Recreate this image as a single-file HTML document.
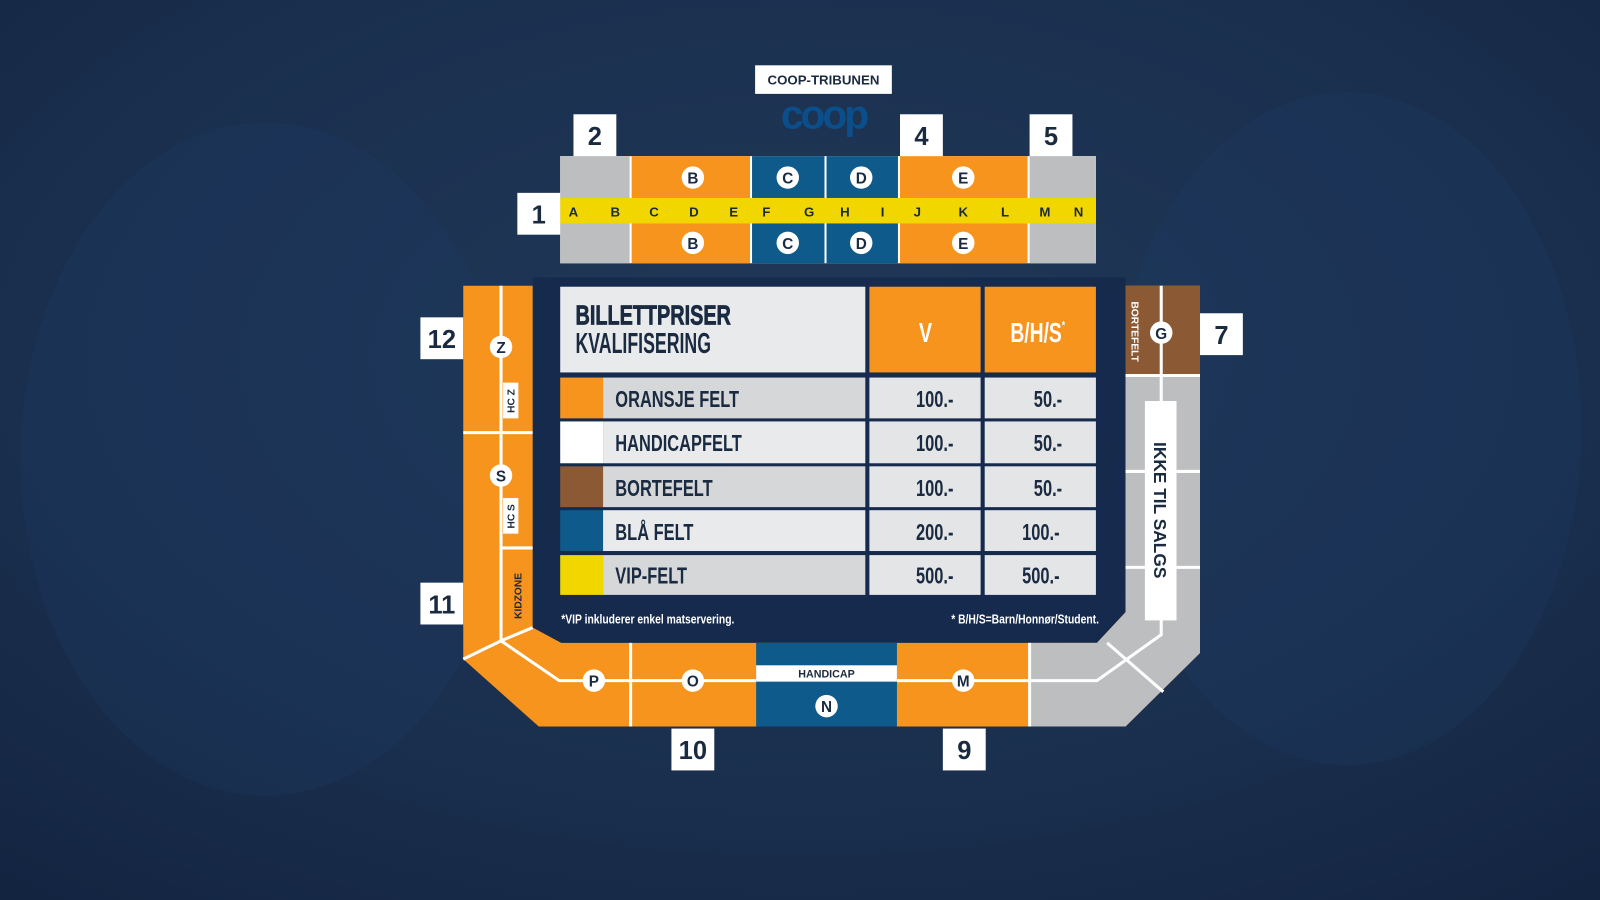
<!DOCTYPE html>
<html><head><meta charset="utf-8"><style>
html,body{margin:0;padding:0;width:1600px;height:900px;overflow:hidden;background:#162c4c}
svg{display:block}
text{font-family:"Liberation Sans",sans-serif;font-weight:bold}
</style></head><body>
<svg width="1600" height="900" viewBox="0 0 1568 882" xmlns="http://www.w3.org/2000/svg">
<defs>
<radialGradient id="bg" cx="0.5" cy="0.4" r="0.8">
<stop offset="0" stop-color="#213858"/><stop offset="0.6" stop-color="#1a2f4e"/><stop offset="1" stop-color="#12233f"/>
</radialGradient>
</defs>
<rect width="1568" height="882" fill="url(#bg)"/>
<ellipse cx="260" cy="450" rx="240" ry="330" fill="#1c3a68" opacity="0.25"/>
<ellipse cx="1320" cy="420" rx="230" ry="330" fill="#1c3a68" opacity="0.25"/>

<!-- COOP -->
<rect x="740" y="64" width="134" height="28" fill="#fff"/>
<text x="807" y="83" font-size="13" fill="#1a2a40" text-anchor="middle">COOP-TRIBUNEN</text>
<text x="807" y="126" font-size="40" fill="#0b4e8c" text-anchor="middle" letter-spacing="-3">coop</text>

<!-- top stand -->
<rect x="549" y="153" width="525" height="105" fill="#fff"/>
<rect x="549" y="153" width="68" height="105" fill="#bdbec0"/>
<rect x="619" y="153" width="116" height="105" fill="#f7941d"/>
<rect x="737" y="153" width="71" height="105" fill="#0e5a8a"/>
<rect x="810" y="153" width="70" height="105" fill="#0e5a8a"/>
<rect x="882" y="153" width="125" height="105" fill="#f7941d"/>
<rect x="1009" y="153" width="65" height="105" fill="#bdbec0"/>
<rect x="549" y="194" width="525" height="25" fill="#f2d600"/>
<g font-size="13" fill="#1a2a40" text-anchor="middle">
<text x="562" y="212">A</text><text x="603" y="212">B</text><text x="641" y="212">C</text><text x="680" y="212">D</text><text x="719" y="212">E</text><text x="751" y="212">F</text><text x="793" y="212">G</text><text x="828" y="212">H</text><text x="865" y="212">I</text><text x="899" y="212">J</text><text x="944" y="212">K</text><text x="985" y="212">L</text><text x="1024" y="212">M</text><text x="1057" y="212">N</text>
</g>

<!-- number boxes -->
<g fill="#fff">
<rect x="562" y="112" width="42" height="41"/><rect x="882" y="112" width="42" height="41"/><rect x="1009" y="112" width="42" height="41"/>
<rect x="507" y="189" width="42" height="41"/><rect x="412" y="311" width="42" height="41"/><rect x="412" y="571" width="42" height="41"/>
<rect x="1176" y="307" width="42" height="41"/><rect x="658" y="714" width="42" height="41"/><rect x="924" y="714" width="42" height="41"/>
</g>
<g font-size="25" fill="#1a2a40" text-anchor="middle">
<text x="583" y="142">2</text><text x="903" y="142">4</text><text x="1030" y="142">5</text>
<text x="528" y="219">1</text><text x="433" y="341">12</text><text x="433" y="601">11</text>
<text x="1197" y="337">7</text><text x="679" y="744">10</text><text x="945" y="744">9</text>
</g>

<!-- table backing -->
<polygon points="522,272 1103,272 1103,600 1075,630 550,630 522,615" fill="#13274a" opacity="0.7"/>

<!-- U-shaped stand -->
<path d="M454,280 L522,280 L522,615 L550,630 L1075,630 L1103,600 L1103,280 L1176,280 L1176,640 L1103,712 L528,712 L454,646 Z" fill="#f7941d"/>
<polygon points="1009,630 1075,630 1103,600 1103,368 1176,368 1176,640 1103,712 1009,712" fill="#bdbec0"/>
<rect x="1103" y="280" width="73" height="88" fill="#8b5a35"/>
<rect x="741" y="630" width="138" height="82" fill="#0e5a8a"/>
<rect x="741" y="652" width="138" height="16" fill="#fff"/>
<text x="810" y="664" font-size="10.5" fill="#1a2a40" text-anchor="middle">HANDICAP</text>

<g stroke="#fff" stroke-width="3" fill="none">
<line x1="491" y1="280" x2="491" y2="628"/>
<line x1="454" y1="424" x2="522" y2="424"/>
<line x1="491" y1="537" x2="522" y2="537"/>
<polyline points="454,646 491,628 522,615"/>
<polyline points="491,628 548,667 741,667"/>
<line x1="618" y1="630" x2="618" y2="712"/>
<line x1="1009" y1="630" x2="1009" y2="712"/>
<polyline points="879,667 1075,667 1138,622 1138,280"/>
<line x1="1085" y1="630" x2="1140" y2="678"/>
<line x1="1103" y1="368" x2="1176" y2="368"/>
<line x1="1103" y1="462" x2="1176" y2="462"/>
<line x1="1103" y1="556" x2="1176" y2="556"/>
</g>
<rect x="1122" y="393" width="31" height="215" fill="#fff"/>
<text transform="translate(1131,500) rotate(90)" font-size="17" fill="#1a2a40" text-anchor="middle" font-weight="normal">IKKE TIL SALGS</text>
<text transform="translate(1109,325) rotate(90)" font-size="10" fill="#fff" text-anchor="middle" font-weight="normal">BORTEFELT</text>
<rect x="493" y="375" width="15" height="35" fill="#fff"/>
<rect x="493" y="488" width="15" height="35" fill="#fff"/>
<text transform="translate(504,393) rotate(-90)" font-size="10" fill="#1a2a40" text-anchor="middle">HC Z</text>
<text transform="translate(504,506) rotate(-90)" font-size="10" fill="#1a2a40" text-anchor="middle">HC S</text>
<text transform="translate(511,584) rotate(-90)" font-size="10" fill="#1a2a40" text-anchor="middle">KIDZONE</text>

<!-- circles -->
<g fill="#fff">
<circle cx="679" cy="174" r="11"/><circle cx="772" cy="174" r="11"/><circle cx="844" cy="174" r="11"/><circle cx="944" cy="174" r="11"/>
<circle cx="679" cy="238" r="11"/><circle cx="772" cy="238" r="11"/><circle cx="844" cy="238" r="11"/><circle cx="944" cy="238" r="11"/>
<circle cx="491" cy="340" r="11"/><circle cx="491" cy="466" r="11"/><circle cx="1138" cy="326" r="11"/>
<circle cx="582" cy="667" r="11"/><circle cx="679" cy="667" r="11"/><circle cx="944" cy="667" r="11"/><circle cx="810" cy="692" r="11"/>
</g>
<g font-size="15" fill="#1a2a40" text-anchor="middle">
<text x="679" y="180">B</text><text x="772" y="180">C</text><text x="844" y="180">D</text><text x="944" y="180">E</text>
<text x="679" y="244">B</text><text x="772" y="244">C</text><text x="844" y="244">D</text><text x="944" y="244">E</text>
<text x="491" y="346">Z</text><text x="491" y="472">S</text><text x="1138" y="332">G</text>
<text x="582" y="673">P</text><text x="679" y="673">O</text><text x="944" y="673">M</text><text x="810" y="698">N</text>
</g>

<!-- table -->
<rect x="549" y="281" width="299" height="84" fill="#e9eaec"/>
<rect x="852" y="281" width="109" height="84" fill="#f7941d"/>
<rect x="965" y="281" width="109" height="84" fill="#f7941d"/>
<text transform="translate(564,318) scale(0.72,1)" font-size="27" fill="#1a2a40" stroke="#1a2a40" stroke-width="0.8">BILLETTPRISER</text>
<text transform="translate(564,346) scale(0.62,1)" font-size="28" fill="#1a2a40" font-weight="normal">KVALIFISERING</text>
<text transform="translate(907,335) scale(0.72,1)" font-size="27" fill="#fff" text-anchor="middle">V</text>
<text transform="translate(1017,335) scale(0.7,1)" font-size="27" fill="#fff" text-anchor="middle">B/H/S<tspan font-size="12" dy="-12">*</tspan></text>

<g>
<rect x="549" y="370" width="42" height="40" fill="#f7941d"/><rect x="591" y="370" width="257" height="40" fill="#d6d7d9"/>
<rect x="549" y="413" width="42" height="41" fill="#fff"/><rect x="591" y="413" width="257" height="41" fill="#e9eaec"/>
<rect x="549" y="457" width="42" height="40" fill="#8b5a35"/><rect x="591" y="457" width="257" height="40" fill="#d6d7d9"/>
<rect x="549" y="500" width="42" height="40" fill="#0e5a8a"/><rect x="591" y="500" width="257" height="40" fill="#e9eaec"/>
<rect x="549" y="544" width="42" height="39" fill="#f2d600"/><rect x="591" y="544" width="257" height="39" fill="#d6d7d9"/>
</g>
<g fill="#e4e5e7">
<rect x="852" y="370" width="109" height="40"/><rect x="965" y="370" width="109" height="40"/>
<rect x="852" y="413" width="109" height="41"/><rect x="965" y="413" width="109" height="41"/>
<rect x="852" y="457" width="109" height="40"/><rect x="965" y="457" width="109" height="40"/>
<rect x="852" y="500" width="109" height="40"/><rect x="965" y="500" width="109" height="40"/>
<rect x="852" y="544" width="109" height="39"/><rect x="965" y="544" width="109" height="39"/>
</g>
<g font-size="23" fill="#1a2a40">
<text transform="translate(603,399) scale(0.7,1)">ORANSJE FELT</text>
<text transform="translate(603,442) scale(0.7,1)">HANDICAPFELT</text>
<text transform="translate(603,486) scale(0.7,1)">BORTEFELT</text>
<text transform="translate(603,529) scale(0.7,1)">BLÅ FELT</text>
<text transform="translate(603,572) scale(0.7,1)">VIP-FELT</text>
</g>
<g font-size="23" fill="#1a2a40" text-anchor="middle">
<text transform="translate(916,399) scale(0.7,1)">100.-</text><text transform="translate(1027,399) scale(0.7,1)">50.-</text>
<text transform="translate(916,442) scale(0.7,1)">100.-</text><text transform="translate(1027,442) scale(0.7,1)">50.-</text>
<text transform="translate(916,486) scale(0.7,1)">100.-</text><text transform="translate(1027,486) scale(0.7,1)">50.-</text>
<text transform="translate(916,529) scale(0.7,1)">200.-</text><text transform="translate(1020,529) scale(0.7,1)">100.-</text>
<text transform="translate(916,572) scale(0.7,1)">500.-</text><text transform="translate(1020,572) scale(0.7,1)">500.-</text>
</g>
<text transform="translate(550,611) scale(0.78,1)" font-size="13" fill="#fff">*VIP inkluderer enkel matservering.</text>
<text transform="translate(1077,611) scale(0.78,1)" font-size="13" fill="#fff" text-anchor="end">* B/H/S=Barn/Honnør/Student.</text>
</svg>
</body></html>
